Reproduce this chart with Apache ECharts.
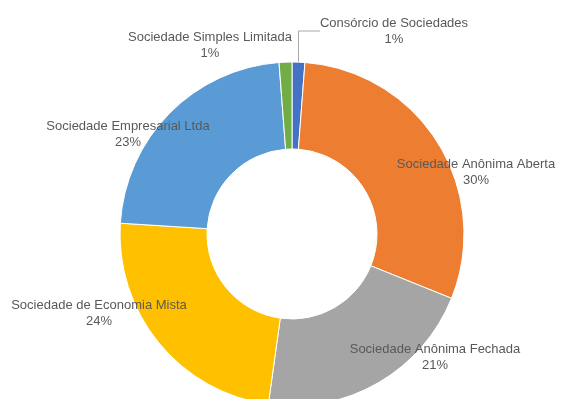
<!DOCTYPE html>
<html>
<head>
<meta charset="utf-8">
<script src="https://cdn.jsdelivr.net/npm/echarts@6/dist/echarts.min.js"></script>
<style>html,body{margin:0;padding:0;background:#fff}#c{width:561px;height:399px}</style>
</head>
<body>
<div id="c"></div>
<script>
var categories = ["Consórcio de Sociedades","Sociedade Anônima Aberta","Sociedade Anônima Fechada","Sociedade de Economia Mista","Sociedade Empresarial Ltda","Sociedade Simples Limitada"];
var values = [1.2, 29.9, 21.1, 23.8, 22.8, 1.2];
var colors = ["#4472C4","#ED7D31","#A5A5A5","#FFC000","#5B9BD5","#70AD47"];
var labelSpots = [[394,31],[476,172],[435,357],[99,313],[128,134],[210,45]];

var chart = echarts.init(document.getElementById('c'), null, {renderer:'canvas'});
chart.setOption({
  animation:false,
  color: colors,
  series:[{
    type:'pie',
    center:[292,234],
    radius:[85,172],
    startAngle:90,
    clockwise:true,
    percentPrecision:0,
    avoidLabelOverlap:false,
    itemStyle:{borderColor:'#fff',borderWidth:1},
    label:{
      show:true,
      position:'outside',
      formatter:'{b}\n{d}%',
      color:'#595959',
      fontFamily:'Liberation Sans, Arial, sans-serif',
      fontSize:13,
      lineHeight:16,
      align:'center'
    },
    labelLine:{show:false},
    labelLayout:function(p){
      var s = labelSpots[p.dataIndex];
      return {x:s[0], y:s[1], align:'center', verticalAlign:'middle'};
    },
    data: categories.map(function(n,i){
      var d = {name:n, value:values[i]};
      if(i===0){ d.labelLine = {show:true, lineStyle:{color:'#A6A6A6',width:1}}; }
      return d;
    })
  }]
});
</script>
</body>
</html>
